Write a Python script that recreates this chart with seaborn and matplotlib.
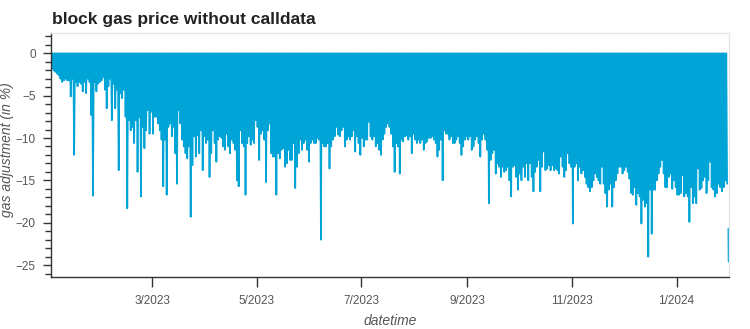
import numpy as np
import pandas as pd
import matplotlib
matplotlib.use("Agg")
import matplotlib.pyplot as plt
import matplotlib.dates as mdates
from matplotlib.ticker import MultipleLocator, FuncFormatter, FixedLocator
import seaborn as sns

# ---------------- data ----------------
title = "block gas price without calldata"
x_label = "datetime"
y_label = "gas adjustment (in %)"
start_date = "2023-01-01"
tick_dates = ["2023-03-01", "2023-05-01", "2023-07-01", "2023-09-01", "2023-11-01", "2024-01-01"]
top_level = 0.0  # daily maximum adjustment, ~0 throughout

# daily minimum gas adjustment (%), one value per day from 2023-01-01
lows_jan_mar = [-1.8, -2.0, -2.2, -2.4, -2.6, -3.0, -3.4, -3.2, -3.0, -3.2,
                -3.2, -5.1, -3.0, -12.0, -3.4, -3.9, -3.4, -3.6, -4.5, -3.4,
                -4.7, -3.0, -3.4, -7.3, -16.8, -3.4, -4.5, -3.6, -3.4, -3.2,
                -2.8, -4.3, -6.5, -3.9, -3.0, -7.9, -3.6, -6.5, -4.3, -13.8,
                -4.7, -5.3, -4.3, -7.5, -18.3, -7.9, -9.1, -8.7, -10.6, -7.9,
                -14.0, -7.5, -16.9, -8.7, -11.2, -9.1, -6.7, -9.5, -6.9, -9.5,
                -7.5, -7.5, -8.3, -9.1, -10.2, -15.7, -10.2]
lows_mar_may = [-16.7, -8.7, -8.3, -9.8, -8.7, -11.8, -15.4, -6.7, -8.3, -10.2,
                -11.0, -11.8, -12.4, -11.0, -19.3, -13.2, -9.8, -12.2, -9.7, -11.8,
                -9.1, -13.8, -9.8, -10.6, -10.2, -14.6, -11.8, -9.1, -10.6, -12.8,
                -10.2, -9.8, -10.0, -11.0, -11.4, -9.5, -11.0, -11.8, -10.2, -10.6,
                -11.4, -15.0, -15.7, -9.1, -10.6, -11.0, -16.7, -10.6, -9.8, -10.8,
                -10.2, -10.6, -7.9, -8.7, -12.6, -9.5, -9.1, -10.2, -15.2, -9.1,
                -8.3, -11.8, -12.2, -12.2, -16.7, -11.8]
lows_may_jul = [-12.4, -11.4, -11.2, -13.4, -13.0, -11.4, -12.6, -12.6, -10.6, -15.9,
                -13.4, -11.8, -10.2, -11.4, -10.6, -10.2, -11.4, -12.8, -10.6, -10.2,
                -10.6, -10.6, -10.0, -10.2, -22.0, -10.6, -11.0, -11.0, -10.6, -13.6,
                -11.0, -10.2, -9.8, -8.7, -9.6, -9.8, -9.1, -8.7, -11.0, -10.2,
                -9.8, -10.2, -9.8, -9.1, -11.6, -9.8, -10.6, -12.0, -10.0, -11.0,
                -10.2, -10.2, -8.1, -9.8, -10.2, -9.8, -11.0, -10.6, -11.4, -12.0,
                -10.2, -9.5, -8.7, -8.3, -8.7, -9.5, -11.0]
lows_jul_sep = [-14.0, -10.6, -11.0, -14.2, -10.2, -10.4, -9.8, -9.7, -10.2, -9.8,
                -11.8, -9.5, -10.2, -10.6, -10.2, -10.6, -10.2, -11.4, -10.6, -10.4,
                -10.0, -10.0, -9.8, -10.2, -10.6, -12.2, -11.4, -10.2, -15.0, -9.1,
                -9.5, -9.5, -10.2, -9.8, -10.6, -10.6, -10.2, -9.8, -10.6, -12.0,
                -11.0, -10.2, -9.8, -10.2, -9.8, -11.4, -11.0, -10.2, -9.8, -10.6,
                -12.2, -10.2, -9.5, -10.2, -11.4, -17.7, -12.6, -11.8, -11.4, -14.2,
                -13.0, -13.4, -14.6, -13.4, -14.0, -13.8, -13.4]
lows_sep_nov = [-15.0, -16.9, -13.4, -13.2, -14.6, -16.1, -14.2, -15.0, -13.4, -14.6,
                -13.0, -15.0, -13.0, -14.6, -16.3, -14.0, -13.4, -12.6, -16.3, -13.4,
                -11.6, -13.8, -13.6, -13.2, -13.8, -13.2, -13.8, -13.6, -13.8, -14.2,
                -12.2, -13.4, -14.6, -13.8, -11.8, -13.0, -13.4, -20.1, -13.4, -13.0,
                -15.0, -13.4, -14.2, -13.8, -14.6, -15.4, -15.8, -16.3, -15.8, -15.0,
                -14.2, -14.6, -15.0, -15.4, -13.4, -15.4, -16.5, -18.1, -16.1, -15.4,
                -18.1, -15.8, -15.0, -14.2, -13.4, -13.4, -14.2]
lows_nov_jan = [-13.8, -13.4, -14.0, -14.8, -16.5, -16.7, -15.8, -17.9, -16.5, -16.9,
                -20.1, -17.3, -18.1, -17.7, -24.0, -16.1, -21.3, -16.1, -16.1, -15.0,
                -14.2, -13.4, -12.6, -14.2, -15.8, -15.8, -14.6, -14.2, -16.0, -15.0,
                -15.8, -16.7, -16.7, -16.5, -14.4, -16.9, -16.5, -16.9, -19.9, -15.8,
                -17.7, -16.9, -17.7, -13.6, -16.1, -15.9, -15.0, -14.6, -16.5, -15.0,
                -12.8, -15.8, -16.1, -16.9, -16.5, -15.4, -15.8, -16.3, -15.8, -15.0,
                -15.4]
# last, disconnected piece at the very end of the record
tail_values = [-20.7, -24.6]

# ---------------- build the long table ----------------
lows = lows_jan_mar + lows_mar_may + lows_may_jul + lows_jul_sep + lows_sep_nov + lows_nov_jan
t0 = pd.Timestamp(start_date)
times, vals, segs = [], [], []
for i, v in enumerate(lows):
    day = t0 + pd.Timedelta(days=i)
    times += [day, day + pd.Timedelta(hours=12)]
    vals += [top_level, v]
    segs += [0, 0]
tail_day = t0 + pd.Timedelta(days=len(lows)) + pd.Timedelta(hours=6)
for j, v in enumerate(tail_values):
    times.append(tail_day + pd.Timedelta(hours=3 * j))
    vals.append(v)
    segs.append(1)
df = pd.DataFrame({"datetime": times, "gas": vals, "segment": segs})

# ---------------- plot ----------------
sns.set_style("white")
plt.rcParams["font.family"] = ["Liberation Sans", "DejaVu Sans"]

fig = plt.figure(figsize=(7.5, 3.29), dpi=100)
ax = fig.add_axes([0.068, 0.158, 0.904, 0.742])

sns.lineplot(data=df, x="datetime", y="gas", units="segment", estimator=None,
             sort=False, color="#00a4d6", lw=1.25, ax=ax)

ax.set_xlim(t0, t0 + pd.Timedelta(days=395.6))
ax.set_ylim(-26.4, 2.4)

ax.yaxis.set_major_locator(MultipleLocator(5))
ax.yaxis.set_minor_locator(MultipleLocator(1))
ax.xaxis.set_major_locator(FixedLocator(mdates.date2num(pd.to_datetime(tick_dates))))


def fmt_date(x, pos):
    d = mdates.num2date(x)
    return f"{d.month}/{d.year}"


ax.xaxis.set_major_formatter(FuncFormatter(fmt_date))

for side in ["left", "bottom"]:
    ax.spines[side].set_color("#333333")
    ax.spines[side].set_linewidth(1.0)
for side in ["top", "right"]:
    ax.spines[side].set_color("#e6e6e6")
    ax.spines[side].set_linewidth(1.0)

ax.tick_params(axis="y", which="major", direction="out", length=6, width=1,
               color="#333333", labelsize=8.5, labelcolor="#555555", pad=5, left=True)
ax.tick_params(axis="y", which="minor", direction="out", length=4, width=1,
               color="#333333", left=True)
ax.tick_params(axis="x", which="major", direction="out", length=7, width=1,
               color="#333333", labelsize=8.5, labelcolor="#555555", pad=6, bottom=True)

ax.set_xlabel(x_label, fontsize=10, fontstyle="italic", color="#555555")
ax.set_ylabel(y_label, fontsize=10, fontstyle="italic", color="#555555")
ax.xaxis.set_label_coords(0.5, -0.152)
ax.yaxis.set_label_coords(-0.054, 0.52)

fig.text(0.069, 0.942, title, fontsize=12.5, fontweight="bold", color="#222222",
         ha="left", va="center")

fig.savefig("out.png", dpi=100)
